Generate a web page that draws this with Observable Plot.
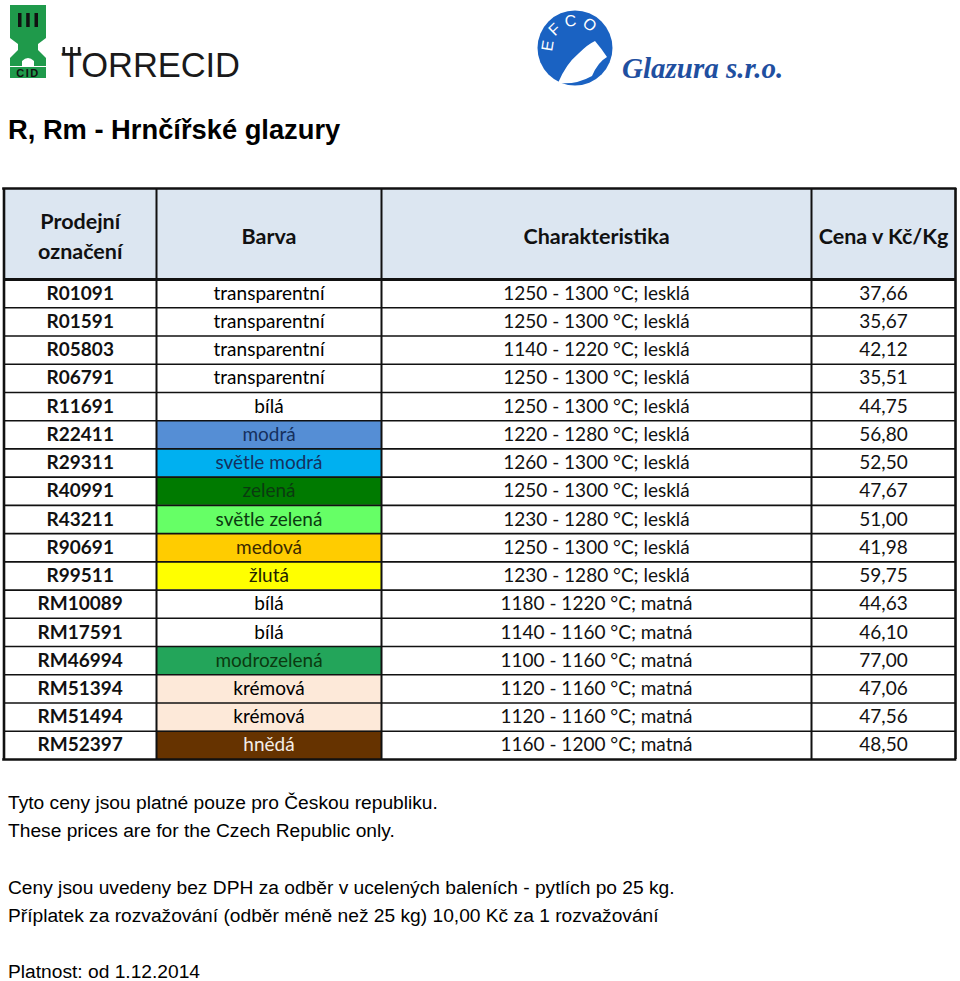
<!DOCTYPE html>
<html>
<head>
<meta charset="utf-8">
<script src="https://cdn.jsdelivr.net/npm/d3@7"></script>
<script src="https://cdn.jsdelivr.net/npm/@observablehq/plot@0.6"></script>
<style>
  html, body { margin: 0; padding: 0; background: #fff; }
  body { width: 960px; height: 981px; position: relative; overflow: hidden;
         font-family: "Liberation Sans", Arial, sans-serif; color: #000; }
  .abs { position: absolute; white-space: nowrap; line-height: 1; }
  .title { font-size: 27.3px; font-weight: bold; }
  .foot { font-size: 19.2px; }
</style>
</head>
<body>

<svg class="abs" style="left:0;top:0" width="960" height="100" viewBox="0 0 960 100">
  <!-- TORRECID mark -->
  <g>
    <path d="M10,5 H46 V38 L38,44 V50 L46,58 V66 H10 V58 L18,50 V44 L10,38 Z" fill="#1f9a4b"/>
    <path d="M22,66 V61 Q28,55 34,61 V66 Z" fill="#fff"/>
    <rect x="18" y="13" width="3.5" height="14" fill="#111"/>
    <rect x="26.2" y="13" width="3.5" height="14" fill="#111"/>
    <rect x="34.5" y="13" width="3.5" height="14" fill="#111"/>
    <rect x="10" y="67" width="36" height="11" fill="#1f9a4b"/>
    <text x="28" y="77" text-anchor="middle" font-family="Liberation Sans, Arial" font-weight="bold" font-size="11" letter-spacing="1.5" fill="#111">CID</text>
  </g>
  <text x="61" y="77" font-family="Liberation Sans, Arial" font-size="34.5" fill="#1a1a1a" letter-spacing="-0.1">TORRECID</text>
  <rect x="62.5" y="47" width="2.6" height="6" fill="#1a1a1a"/>
  <rect x="70.2" y="47" width="2.6" height="6" fill="#1a1a1a"/>
  <rect x="77.8" y="47" width="2.6" height="6" fill="#1a1a1a"/>
  <!-- EFCO mark -->
  <g>
    <circle cx="575" cy="48" r="37.5" fill="#1a62c2"/>
    <defs><path id="efcoArc" d="M553.3,51.8 A22,22 0 0 1 591.9,33.9"/></defs>
    <text font-family="Liberation Sans, Arial" font-size="16" fill="#fff" letter-spacing="4"><textPath href="#efcoArc">EFCO</textPath></text>
    <path d="M558,83 Q566,64 578,54 Q588,44 595,41 Q601,48 607,57 Q598,62 592,76 Q576,85 558,83 Z" fill="#fff"/>
    <text x="0" y="0" transform="translate(600,74) rotate(-60)" font-family="Liberation Serif, serif" font-style="italic" font-size="8" fill="#1a62c2">ame</text>
  </g>
  <text x="622" y="78" font-family="Liberation Serif, serif" font-style="italic" font-weight="bold" font-size="29" fill="#1f4fa0">Glazura s.r.o.</text>
</svg>

<div class="abs title" style="left:8px;top:116px">R, Rm - Hrnčířské glazury</div>

<div id="table" class="abs" style="left:0;top:180px"></div>

<div class="abs foot" style="left:8px;top:793px">Tyto ceny jsou platné pouze pro Českou republiku.</div>
<div class="abs foot" style="left:8px;top:821px">These prices are for the Czech Republic only.</div>
<div class="abs foot" style="left:8px;top:878px">Ceny jsou uvedeny bez DPH za odběr v ucelených baleních - pytlích po 25 kg.</div>
<div class="abs foot" style="left:8px;top:906px">Příplatek za rozvažování (odběr méně než 25 kg) 10,00 Kč za 1 rozvažování</div>
<div class="abs foot" style="left:8px;top:962px">Platnost: od 1.12.2014</div>

<script>
// ---- data ----
const headerLabels = ["Prodejní\noznačení", "Barva", "Charakteristika", "Cena v Kč/Kg"];

const codes = ["R01091","R01591","R05803","R06791","R11691","R22411","R29311","R40991","R43211",
               "R90691","R99511","RM10089","RM17591","RM46994","RM51394","RM51494","RM52397"];

const colorNames = ["transparentní","transparentní","transparentní","transparentní","bílá","modrá",
                    "světle modrá","zelená","světle zelená","medová","žlutá","bílá","bílá",
                    "modrozelená","krémová","krémová","hnědá"];

const tempRanges = ["1250 - 1300","1250 - 1300","1140 - 1220","1250 - 1300","1250 - 1300","1220 - 1280",
                    "1260 - 1300","1250 - 1300","1230 - 1280","1250 - 1300","1230 - 1280","1180 - 1220",
                    "1140 - 1160","1100 - 1160","1120 - 1160","1120 - 1160","1160 - 1200"];

const finishes = ["lesklá","lesklá","lesklá","lesklá","lesklá","lesklá","lesklá","lesklá","lesklá",
                  "lesklá","lesklá","matná","matná","matná","matná","matná","matná"];

const prices = [37.66, 35.67, 42.12, 35.51, 44.75, 56.80, 52.50, 47.67, 51.00,
                41.98, 59.75, 44.63, 46.10, 77.00, 47.06, 47.56, 48.50];

// swatch colours of the "Barva" column
const swatchNames = ["transparentní","bílá","modrá","světle modrá","zelená","světle zelená",
                     "medová","žlutá","modrozelená","krémová","hnědá"];
const swatchFills = ["#ffffff","#ffffff","#558ed5","#00b0f0","#007a00","#66ff66",
                     "#ffcc00","#ffff00","#23a55a","#fde9d9","#663300"];
const swatchInk   = ["#000000","#000000","#15305e","#15305e","#0b3a10","#0b3a10",
                     "#3a2a00","#222200","#0b3a10","#000000","#f4eee8"];

// ---- layout (not data) ----
const colEdges = [3.5, 156, 381, 811, 955];
const rowPx = 480 / codes.length;            // data-row height in px
const headerUnits = 91 / rowPx;              // header height in row units
const colMid = j => (colEdges[j] + colEdges[j + 1]) / 2;

const fillOf = name => swatchFills[swatchNames.indexOf(name)];
const inkOf = name => swatchInk[swatchNames.indexOf(name)];

const rows = codes.map((code, i) => ({
  i,
  code,
  barva: colorNames[i],
  charakteristika: `${tempRanges[i]} °C; ${finishes[i]}`,
  cena: prices[i].toFixed(2).replace(".", ",")
}));

const bodyFont = "Lato, 'Open Sans', sans-serif";
const fs = 19;

const chart = Plot.plot({
  width: 960,
  height: 590,
  marginTop: 8,
  marginBottom: 11,
  marginLeft: 0,
  marginRight: 0,
  x: {domain: [0, 960], axis: null},
  y: {domain: [-headerUnits, codes.length], reverse: true, axis: null},
  color: {type: "identity"},
  style: {background: "#fff", overflow: "visible"},
  marks: [
    // header background
    Plot.rect(headerLabels, {
      x1: (d, j) => colEdges[j], x2: (d, j) => colEdges[j + 1],
      y1: -headerUnits, y2: 0, fill: "#dce6f1"
    }),
    // colour swatches
    Plot.rect(rows, {
      x1: colEdges[1], x2: colEdges[2],
      y1: "i", y2: d => d.i + 1,
      fill: d => fillOf(d.barva)
    }),
    // row separators
    Plot.ruleY(d3.range(1, codes.length), {x1: colEdges[0], x2: colEdges[4], stroke: "#111", strokeWidth: 1.6}),
    // column separators
    Plot.ruleX(colEdges.slice(1, 4), {y1: -headerUnits, y2: codes.length, stroke: "#111", strokeWidth: 2}),
    // outer frame
    Plot.ruleX([colEdges[0], colEdges[4]], {y1: -headerUnits, y2: codes.length, stroke: "#111", strokeWidth: 2.6}),
    Plot.ruleY([-headerUnits, codes.length], {x1: colEdges[0] - 1.3, x2: colEdges[4] + 1.3, stroke: "#111", strokeWidth: 2.6}),
    Plot.ruleY([0], {x1: colEdges[0], x2: colEdges[4], stroke: "#111", strokeWidth: 3}),
    // header text
    Plot.text(headerLabels, {
      x: (d, j) => colMid(j), y: -headerUnits / 2, text: d => d,
      fontFamily: bodyFont, fontWeight: "bold", fontSize: 21.5, lineHeight: 1.4, fill: "#111"
    }),
    // body text
    Plot.text(rows, {x: colMid(0), y: d => d.i + 0.5, text: "code",
      fontFamily: bodyFont, fontWeight: "bold", fontSize: fs, fill: "#111"}),
    Plot.text(rows, {x: colMid(1), y: d => d.i + 0.5, text: "barva",
      fontFamily: bodyFont, fontSize: fs, fill: d => inkOf(d.barva)}),
    Plot.text(rows, {x: colMid(2), y: d => d.i + 0.5, text: "charakteristika",
      fontFamily: bodyFont, fontSize: fs, fill: "#111"}),
    Plot.text(rows, {x: colMid(3), y: d => d.i + 0.5, text: "cena",
      fontFamily: bodyFont, fontSize: fs, fill: "#111"})
  ]
});

document.getElementById("table").appendChild(chart);
</script>
</body>
</html>
